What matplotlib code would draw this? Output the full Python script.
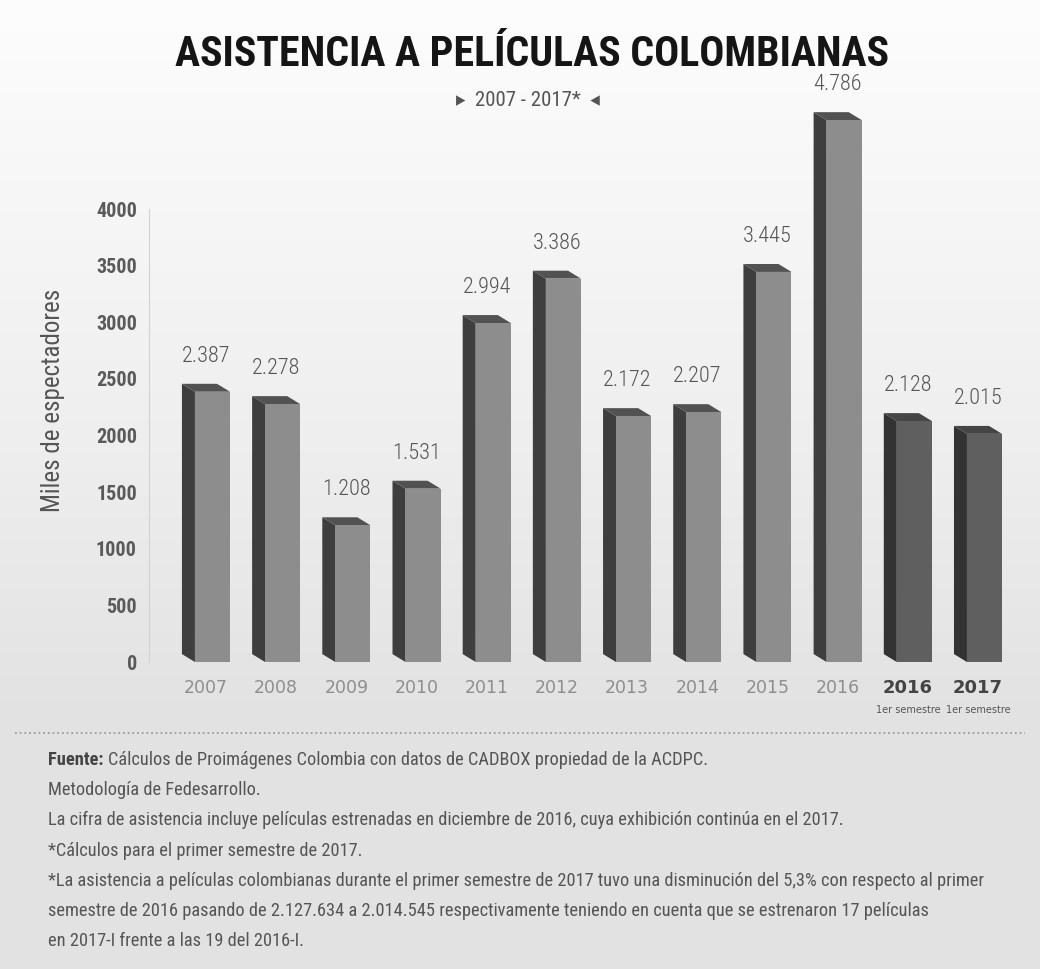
import numpy as np
import matplotlib

matplotlib.use("Agg")
import matplotlib.pyplot as plt
from matplotlib import font_manager
from matplotlib.lines import Line2D
from matplotlib.patches import Polygon

# Asistencia anual (miles de espectadores)
years = ["2007", "2008", "2009", "2010", "2011", "2012", "2013", "2014", "2015", "2016", "2016", "2017"]
semester = [False] * 10 + [True] * 2
attendance = [2387, 2278, 1208, 1531, 2994, 3386, 2172, 2207, 3445, 4786, 2128, 2015]
y_ticks = [0, 500, 1000, 1500, 2000, 2500, 3000, 3500, 4000]

title = "ASISTENCIA A PELÍCULAS COLOMBIANAS"
subtitle = "▸  2007 - 2017*  ◂"
source_label = "Fuente:"
notes = [
    "Cálculos de Proimágenes Colombia con datos de CADBOX propiedad de la ACDPC.",
    "Metodología de Fedesarrollo.",
    "La cifra de asistencia incluye películas estrenadas en diciembre de 2016, cuya exhibición continúa en el 2017.",
    "*Cálculos para el primer semestre de 2017.",
    "*La asistencia a películas colombianas durante el primer semestre de 2017 tuvo una disminución del 5,3% con respecto al primer",
    "semestre de 2016 pasando de 2.127.634 a 2.014.545 respectivamente teniendo en cuenta que se estrenaron 17 películas",
    "en 2017-I frente a las 19 del 2016-I.",
]

W, H = 1040, 969

_installed = {f.name for f in font_manager.fontManager.ttflist}
NARROW = next(
    (n for n in ("Roboto Condensed", "Liberation Sans Narrow", "Open Sans Condensed", "DejaVu Sans") if n in _installed),
    "DejaVu Sans",
)
COND = dict(family=[NARROW, "DejaVu Sans"], stretch="condensed")


def fy(px):
    return 1 - px / H


def fit_width(txt, width_px, renderer):
    w = txt.get_window_extent(renderer).width
    txt.set_fontsize(txt.get_fontsize() * width_px / w)
    return txt.get_fontsize()


fig = plt.figure(figsize=(W / 100, H / 100), dpi=100)

# soft grey backdrop, lighter at the top
bg = fig.add_axes([0, 0, 1, 1], zorder=-10)
shade = np.interp(np.arange(H), [0, 150, 450, 720, 969], [253, 248, 238, 226, 227]) / 255
img = np.repeat(np.tile(shade[:, None], (1, 8))[:, :, None], 3, axis=2)
bg.imshow(img, aspect="auto", extent=[0, 1, 0, 1], interpolation="nearest")
bg.axis("off")

# chart area
x0_px, x1_px = 149.3, 1019.6
ax = fig.add_axes([x0_px / W, fy(662), (x1_px - x0_px) / W, (662 - 80) / H])
ax.set_facecolor("none")
ax.set_xlim(-0.9, 11.5)
ax.set_ylim(0, 5140)

x = np.arange(len(attendance))
bar_w = 0.5
depth_x = 0.185          # oblique offset of the back faces (x units)
depth_y = 70.0           # oblique offset of the back faces (value units)

front = ["#5f5f5f" if s else "#8d8d8d" for s in semester]
side = ["#333333" if s else "#3e3e3e" for s in semester]
top = ["#454545" if s else "#525252" for s in semester]

ax.bar(x, attendance, width=bar_w, color=front, edgecolor="none", zorder=3)
for xi, v, cs, ct in zip(x, attendance, side, top):
    left, right = xi - bar_w / 2, xi + bar_w / 2
    ax.add_patch(Polygon(
        [(left, 0), (left, v), (left - depth_x, v + depth_y), (left - depth_x, depth_y)],
        closed=True, facecolor=cs, edgecolor="none", zorder=2))
    ax.add_patch(Polygon(
        [(left, v), (right, v), (right - depth_x, v + depth_y), (left - depth_x, v + depth_y)],
        closed=True, facecolor=ct, edgecolor="none", zorder=2))

centers = x - depth_x / 2
for c, v in zip(centers, attendance):
    ax.text(c, v + depth_y + 150, f"{v:,}".replace(",", "."), ha="center", va="bottom",
            fontsize=16, fontweight="light", color="#555555", **COND)

ax.set_yticks(y_ticks)
ax.set_yticklabels([str(t) for t in y_ticks], fontsize=14.5, fontweight="bold", color="#5a5a5a", **COND)
ax.set_xticks(centers)
ax.set_xticklabels(years, fontsize=12.5, color="#8e8e8e")
for lab, s in zip(ax.get_xticklabels(), semester):
    if s:
        lab.set_fontweight("bold")
        lab.set_color("#444444")
        lab.set_fontsize(13)
ax.tick_params(axis="both", length=0)
ax.tick_params(axis="y", pad=9)
ax.tick_params(axis="x", pad=12)
for c, s in zip(centers, semester):
    if s:
        ax.text(c, -0.082, "1er semestre", transform=ax.get_xaxis_transform(),
                ha="center", va="center", fontsize=7, color="#555555")

for name in ("top", "right", "bottom"):
    ax.spines[name].set_visible(False)
ax.spines["left"].set_color("#d2d2d2")
ax.spines["left"].set_bounds(0, 4000)

ax.set_ylabel("Miles de espectadores", fontsize=18, color="#555555", **COND)
ax.yaxis.set_label_coords(-0.097, 0.45)

# headings
renderer = fig.canvas.get_renderer()
t = fig.text(532 / W, fy(55), title, ha="center", va="center", fontsize=30,
             fontweight="black", color="#151515", **COND)
fit_width(t, 715, renderer)
fig.text(528 / W, fy(100), subtitle, ha="center", va="center", fontsize=15, color="#555555", **COND)

# footer
fig.add_artist(Line2D([15 / W, 1025 / W], [fy(733), fy(733)], color="#9c9c9c",
                      lw=1.3, linestyle=(0, (1, 1.6))))

note_y = [760, 790, 820, 851, 881, 911, 941]
probe = fig.text(48 / W, 0.5, notes[4], fontsize=10, **COND)
note_size = fit_width(probe, 930, renderer)
probe.remove()

src = fig.text(48 / W, fy(note_y[0]), source_label, fontsize=note_size, fontweight="bold",
               color="#444444", va="center", **COND)
fig.canvas.draw()
fig.add_artist(plt.Annotation(notes[0], xy=(1, 0), xycoords=src, xytext=(3, 0),
                              textcoords="offset points", va="bottom",
                              fontsize=note_size, color="#555555", **COND))
for yy, line in zip(note_y[1:], notes[1:]):
    fig.text(48 / W, fy(yy), line, fontsize=note_size, color="#555555", va="center", **COND)

fig.savefig("out.png", dpi=100)
